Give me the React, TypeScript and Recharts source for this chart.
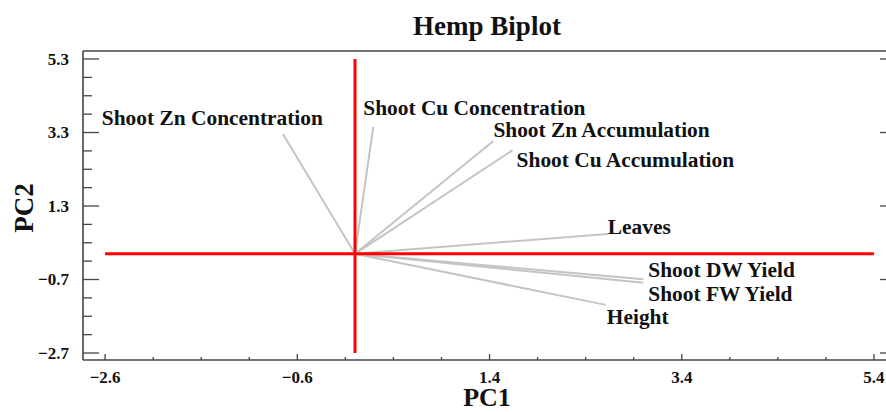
import React from 'react';
import { ComposedChart, XAxis, YAxis, ReferenceLine, Scatter } from 'recharts';

// ---- data ----
const variables = [
  'Shoot Zn Concentration',
  'Shoot Cu Concentration',
  'Shoot Zn Accumulation',
  'Shoot Cu Accumulation',
  'Leaves',
  'Shoot DW Yield',
  'Shoot FW Yield',
  'Height',
];
const pc1Loadings = [-0.75, 0.19, 1.44, 1.64, 2.63, 3.0, 3.0, 2.61];
const pc2Loadings = [3.26, 3.45, 3.07, 2.82, 0.54, -0.69, -0.79, -1.39];
const xMajorTicks = [-2.6, -0.6, 1.4, 3.4, 5.4];
const yMajorTicks = [-2.7, -0.7, 1.3, 3.3, 5.3];
const chartTitle = 'Hemp Biplot';
const xTitle = 'PC1';
const yTitle = 'PC2';

// ---- layout (label nudges in px, relative to vector end) ----
const labelNudge: { dx: number; dy: number; anchor: 'start' | 'end' }[] = [
  { dx: 40, dy: -9, anchor: 'end' },
  { dx: -10, dy: -12, anchor: 'start' },
  { dx: 0, dy: -4, anchor: 'start' },
  { dx: 4, dy: 17, anchor: 'start' },
  { dx: 0, dy: 0, anchor: 'start' },
  { dx: 5, dy: -2, anchor: 'start' },
  { dx: 5, dy: 18, anchor: 'start' },
  { dx: 1, dy: 19, anchor: 'start' },
];

const points = variables.map((name, i) => ({
  name,
  x: pc1Loadings[i],
  y: pc2Loadings[i],
  idx: i,
}));

const withMinor = (majors: number[]) => {
  const out: number[] = [];
  for (let i = 0; i < majors.length; i++) {
    out.push(majors[i]);
    if (i < majors.length - 1) {
      for (let k = 1; k < 4; k++) out.push(Math.round((majors[i] + k * 0.5) * 10) / 10);
    }
  }
  return out;
};
const xTicksAll = withMinor(xMajorTicks);
const yTicksAll = withMinor(yMajorTicks);
const isMajor = (v: number, majors: number[]) => majors.some((m) => Math.abs(m - v) < 1e-6);
const fmt = (v: number) => (v < 0 ? '\u2212' + Math.abs(v).toFixed(1) : v.toFixed(1));

const FONT = '"Liberation Serif", "Times New Roman", serif';
const AXIS_COLOR = '#444';

const BottomTick = (p: any) => {
  const { x, y, payload } = p;
  const major = isMajor(payload.value, xMajorTicks);
  return (
    <g>
      <line x1={x} x2={x} y1={y} y2={y - (major ? 6 : 3)} stroke={AXIS_COLOR} strokeWidth={1.3} />
      {major && (
        <text x={x} y={y + 23} textAnchor="middle" fontFamily={FONT} fontWeight="bold" fontSize={17} fill="#111">
          {fmt(payload.value)}
        </text>
      )}
    </g>
  );
};
const TopTick = (p: any) => {
  const { x, y } = p;
  return <line x1={x} x2={x} y1={y} y2={y + 4} stroke={AXIS_COLOR} strokeWidth={1.3} />;
};
const LeftTick = (p: any) => {
  const { x, y, payload } = p;
  const major = isMajor(payload.value, yMajorTicks);
  return (
    <g>
      <line x1={x} x2={x + (major ? 16 : 9)} y1={y} y2={y} stroke={AXIS_COLOR} strokeWidth={1.3} />
      {major && (
        <text x={x - 14} y={y} dy="0.35em" textAnchor="end" fontFamily={FONT} fontWeight="bold" fontSize={17} fill="#111">
          {fmt(payload.value)}
        </text>
      )}
    </g>
  );
};
const RightTick = (p: any) => {
  const { x, y, payload } = p;
  const major = isMajor(payload.value, yMajorTicks);
  if (!major) return <g />;
  return <line x1={x} x2={x - 8} y1={y} y2={y} stroke={AXIS_COLOR} strokeWidth={1.3} />;
};

const LabelShape = (p: any) => {
  const { cx, cy, payload } = p;
  const n = labelNudge[payload.idx];
  return (
    <text
      x={cx + n.dx}
      y={cy + n.dy}
      textAnchor={n.anchor}
      fontFamily={FONT}
      fontWeight="bold"
      fontSize={21.4}
      fill="#111"
    >
      {payload.name}
    </text>
  );
};

const X_DOMAIN: [number, number] = [-2.83, 5.546];
const Y_DOMAIN: [number, number] = [-2.89, 5.518];

export default function App() {
  return (
    <div style={{ position: 'absolute', left: 0, top: 0, width: 886, height: 412, overflow: 'hidden', background: '#fff' }}>
      <ComposedChart width={900} height={412} margin={{ top: 41, left: 23, right: 6, bottom: 22 }}>
        <XAxis
          xAxisId="b"
          type="number"
          dataKey="x"
          domain={X_DOMAIN}
          allowDataOverflow
          ticks={xTicksAll}
          interval={0}
          height={30}
          tickSize={0}
          tickMargin={0}
          tick={<BottomTick />}
          axisLine={{ stroke: AXIS_COLOR, strokeWidth: 1.6 }}
          tickLine={false}
        />
        <XAxis
          xAxisId="t"
          orientation="top"
          type="number"
          domain={X_DOMAIN}
          allowDataOverflow
          ticks={xTicksAll}
          interval={0}
          height={10}
          tickSize={0}
          tickMargin={0}
          tick={<TopTick />}
          axisLine={{ stroke: AXIS_COLOR, strokeWidth: 1.6 }}
          tickLine={false}
        />
        <YAxis
          yAxisId="l"
          type="number"
          dataKey="y"
          domain={Y_DOMAIN}
          allowDataOverflow
          ticks={yTicksAll}
          interval={0}
          width={60}
          tickSize={0}
          tickMargin={0}
          tick={<LeftTick />}
          axisLine={{ stroke: AXIS_COLOR, strokeWidth: 1.6 }}
          tickLine={false}
        />
        <YAxis
          yAxisId="r"
          orientation="right"
          type="number"
          domain={Y_DOMAIN}
          allowDataOverflow
          ticks={yTicksAll}
          interval={0}
          width={6}
          tickSize={0}
          tickMargin={0}
          tick={<RightTick />}
          axisLine={{ stroke: AXIS_COLOR, strokeWidth: 1.6 }}
          tickLine={false}
        />
        {points.map((pt) => (
          <ReferenceLine
            key={pt.name}
            xAxisId="b"
            yAxisId="l"
            segment={[{ x: 0, y: 0 }, { x: pt.x, y: pt.y }]}
            stroke="#c4c4c4"
            strokeWidth={2}
            ifOverflow="visible"
          />
        ))}
        <ReferenceLine
          xAxisId="b"
          yAxisId="l"
          segment={[{ x: xMajorTicks[0], y: 0 }, { x: xMajorTicks[xMajorTicks.length - 1], y: 0 }]}
          stroke="#ff0000"
          strokeWidth={3}
          ifOverflow="visible"
        />
        <ReferenceLine
          xAxisId="b"
          yAxisId="l"
          segment={[{ x: 0, y: yMajorTicks[0] }, { x: 0, y: yMajorTicks[yMajorTicks.length - 1] }]}
          stroke="#ff0000"
          strokeWidth={3}
          ifOverflow="visible"
        />
        <Scatter
          xAxisId="b"
          yAxisId="l"
          data={points}
          dataKey="y"
          shape={<LabelShape />}
          isAnimationActive={false}
        />
      </ComposedChart>
      <svg width={886} height={412} style={{ position: 'absolute', left: 0, top: 0, pointerEvents: 'none' }}>
        <text x={487} y={35} textAnchor="middle" fontFamily={FONT} fontWeight="bold" fontSize={27} fill="#111">
          {chartTitle}
        </text>
        <text x={487} y={406} textAnchor="middle" fontFamily={FONT} fontWeight="bold" fontSize={26} fill="#111">
          {xTitle}
        </text>
        <text
          x={33}
          y={208}
          textAnchor="middle"
          transform="rotate(-90 33 208)"
          fontFamily={FONT}
          fontWeight="bold"
          fontSize={27}
          fill="#111"
        >
          {yTitle}
        </text>
      </svg>
    </div>
  );
}
